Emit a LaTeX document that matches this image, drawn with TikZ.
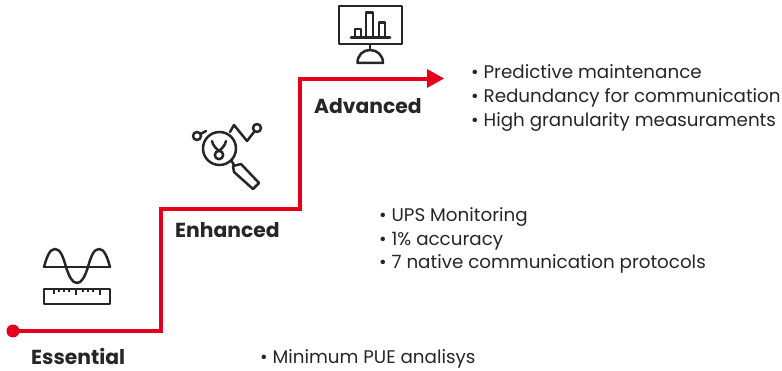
\documentclass[tikz,border=0pt]{standalone}
\usepackage{fontspec}
\setmainfont{Poppins}
\definecolor{abbred}{RGB}{226,0,26}
\definecolor{ink}{RGB}{38,38,38}
\tikzset{
  stepline/.style={draw=abbred,line width=3.7pt,line join=miter},
  icon/.style={draw=ink,line width=2.5pt,line join=round,line cap=round},
  thin icon/.style={draw=ink,line width=1.8pt,line cap=butt},
  level/.style={anchor=base west,inner sep=0pt,font=\fontsize{20.3pt}{24pt}\selectfont\bfseries,text=ink},
  bullet/.style={anchor=base west,inner sep=0pt,font=\fontsize{18.3pt}{22pt}\selectfont,text=ink}
}
\begin{document}
\begin{tikzpicture}[x=1pt,y=-1pt]
\useasboundingbox (0,0) rectangle (782,371);
% stair connector
\coordinate (start) at (13,331);
\coordinate (c1) at (161,331);
\coordinate (c2) at (161,209);
\coordinate (c3) at (300,209);
\coordinate (c4) at (300,79);
\coordinate (headbase) at (428,79);
\draw[stepline] (start) -- (c1) -- (c2) -- (c3) -- (c4) -- (headbase);
\fill[abbred] (start) circle (6.5);
\fill[abbred] (427,69) -- (444,78.5) -- (427,88) -- cycle;
% labels
\node[level] (essential) at (31,364) {Essential};
\node[level] (enhanced) at (175,238) {Enhanced};
\node[level] (advanced) at (314,114) {Advanced};
% bullets
\node[bullet] (b1) at (260,363) {• Minimum PUE analisys};
\node[bullet] (b2) at (379,222) {• UPS Monitoring};
\node[bullet] (b3) at (379,246) {• 1\% accuracy};
\node[bullet] (b4) at (379,269) {• 7 native communication protocols};
\node[bullet] (b5) at (471,79) {• Predictive maintenance};
\node[bullet] (b6) at (471,103) {• Redundancy for communication};
\node[bullet] (b7) at (471,127) {• High granularity measuraments};
% monitor icon
\draw[icon] (339,6) rectangle (402,44);
\draw[icon] (351,37.5) -- (390,37.5);
\draw[icon] (355,37.5) -- (355,29) -- (361,29) -- (361,37.5);
\draw[icon] (366,37.5) -- (366,12.5) -- (373,12.5) -- (373,37.5);
\draw[icon] (379,37.5) -- (379,22.5) -- (385,22.5) -- (385,37.5);
\draw[icon] (370,44) -- (370,50);
\draw[icon] (357.5,63) .. controls (357.5,55) and (363,50) .. (370,50) .. controls (377,50) and (383,55) .. (383,63) -- cycle;
% magnifier icon
\draw[icon] (219.5,148.5) circle (16.5);
\draw[icon] (219,155) circle (4.2);
\draw[icon] (212,141) .. controls (213,146) and (216,148) .. (219,151) .. controls (222,148) and (225,146) .. (226,141);
\draw[icon] (231,160) -- (234,165);
\draw[icon] (233,166) -- (241,164) -- (259,183) -- (253,189) -- (234,172) -- cycle;
\draw[icon] (197,136) circle (4);
\draw[icon] (200.5,134) -- (206,131);
\draw[icon] (230,132) -- (234,125) -- (247,141) -- (254,132);
\draw[icon] (257,128) circle (4);
% sine and ruler icon
\draw[icon] (44,267) -- (110,267);
\draw[icon] (44,267) .. controls (47,256) and (50,249) .. (55,249) .. controls (60,249) and (63,256) .. (66,267) .. controls (69,276) and (72,283) .. (77,283) .. controls (82,283) and (85,276) .. (88,267) .. controls (91,256) and (94,249) .. (99,249) .. controls (104,249) and (107,256) .. (110,267);
\draw[icon] (44,289) rectangle (110,304);
\foreach \x/\l in {54/5,59/3,64/3,69/3,76/6,83/3,88/3,93/3,100/6}{
  \draw[thin icon] (\x,289) -- ++(0,\l);
}
\end{tikzpicture}
\end{document}
